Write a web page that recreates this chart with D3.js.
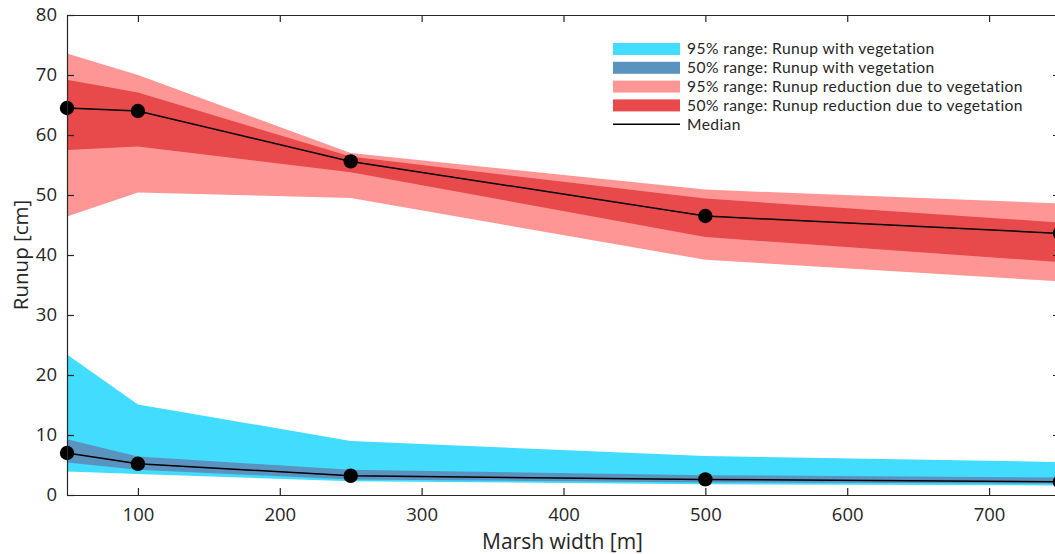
<!DOCTYPE html>
<html>
<head>
<meta charset="utf-8">
<script src="https://cdn.jsdelivr.net/npm/d3@7"></script>
<style>
  html, body { margin: 0; padding: 0; background: #fff; overflow: hidden; }
  svg { display: block; font-family: "Open Sans", "Noto Sans", sans-serif; }
</style>
</head>
<body>
<svg id="chart" width="1055" height="554"></svg>
<script>
// Marsh widths [m]
const widths = [50, 100, 250, 500, 750];

// Runup with vegetation [cm]
const vegMedian = [7.0, 5.2, 3.2, 2.6, 2.2];
const veg95Low  = [3.9, 3.5, 2.3, 1.8, 1.6];
const veg95High = [23.4, 15.1, 9.0, 6.5, 5.5];
const veg50Low  = [5.4, 4.2, 2.6, 2.1, 1.9];
const veg50High = [9.3, 6.4, 4.2, 3.3, 2.9];

// Runup reduction due to vegetation [cm]
const redMedian = [64.5, 64.0, 55.6, 46.5, 43.6];
const red95Low  = [46.4, 50.4, 49.5, 39.2, 35.6];
const red95High = [73.6, 70.0, 57.0, 50.9, 48.6];
const red50Low  = [57.5, 58.1, 53.8, 43.0, 38.8];
const red50High = [69.2, 67.1, 56.4, 49.4, 45.4];

const xTicks = [100, 200, 300, 400, 500, 600, 700];
const yTicks = [0, 10, 20, 30, 40, 50, 60, 70, 80];

const legendLabels = [
  "95% range: Runup with vegetation",
  "50% range: Runup with vegetation",
  "95% range: Runup reduction due to vegetation",
  "50% range: Runup reduction due to vegetation",
  "Median"
];

const colors = {
  veg95: "#42dcff",
  veg50: "#5a93c0",
  red95: "#ff9696",
  red50: "#e8494b",
  axis: "#262626"
};

const svg = d3.select("#chart");
const plotLeft = 67, plotRight = 1060, plotTop = 15, plotBottom = 495;

const x = d3.scaleLinear().domain([50, 750]).range([plotLeft, plotRight]);
const y = d3.scaleLinear().domain([0, 80]).range([plotBottom, plotTop]);

const plot = svg.append("g");

function band(lo, hi, fill) {
  const area = d3.area()
    .x((d, i) => x(widths[i]))
    .y0((d, i) => y(lo[i]))
    .y1((d, i) => y(hi[i]));
  plot.append("path").datum(widths).attr("d", area).attr("fill", fill);
}

band(red95Low, red95High, colors.red95);
band(red50Low, red50High, colors.red50);
band(veg95Low, veg95High, colors.veg95);
band(veg50Low, veg50High, colors.veg50);

function medianLine(vals) {
  const line = d3.line().x((d, i) => x(widths[i])).y(d => y(d));
  plot.append("path").datum(vals).attr("d", line)
    .attr("fill", "none").attr("stroke", "#000").attr("stroke-width", 1.5);
  plot.selectAll(null).data(vals).enter().append("circle")
    .attr("cx", (d, i) => x(widths[i]))
    .attr("cy", d => y(d))
    .attr("r", 7.2)
    .attr("fill", "#000");
}
medianLine(redMedian);
medianLine(vegMedian);

// Axes: box with inward ticks on all four sides
const tickLen = 7;
const axisStyle = g => {
  g.select(".domain").attr("stroke", colors.axis).attr("stroke-width", 1.2);
  g.selectAll(".tick line").attr("stroke", colors.axis).attr("stroke-width", 1.2);
  g.selectAll(".tick text").attr("fill", colors.axis).style("font-size", "18.5px")
    .style("font-family", "'Open Sans', 'Noto Sans', sans-serif");
};

svg.append("g").attr("transform", `translate(0,${plotBottom})`)
  .call(d3.axisBottom(x).tickValues(xTicks).tickSizeInner(-tickLen).tickSizeOuter(0).tickPadding(13))
  .call(axisStyle);
svg.append("g").attr("transform", `translate(0,${plotTop})`)
  .call(d3.axisTop(x).tickValues(xTicks).tickSizeInner(-tickLen).tickSizeOuter(0).tickFormat(""))
  .call(axisStyle);
svg.append("g").attr("transform", `translate(${plotLeft},0)`)
  .call(d3.axisLeft(y).tickValues(yTicks).tickSizeInner(-tickLen).tickSizeOuter(0).tickPadding(10))
  .call(axisStyle);
svg.append("g").attr("transform", `translate(${plotRight},0)`)
  .call(d3.axisRight(y).tickValues(yTicks).tickSizeInner(-tickLen).tickSizeOuter(0).tickFormat(""))
  .call(axisStyle);

// Axis titles
svg.append("text")
  .attr("x", (plotLeft + plotRight) / 2 - 1).attr("y", 549)
  .attr("text-anchor", "middle").attr("fill", colors.axis)
  .style("font-size", "21px").text("Marsh width [m]");
svg.append("text")
  .attr("transform", `translate(28,${(plotTop + plotBottom) / 2}) rotate(-90)`)
  .attr("text-anchor", "middle").attr("fill", colors.axis)
  .style("font-size", "20.5px").text("Runup [cm]");

// Legend
const legend = svg.append("g").attr("transform", "translate(613,49)");
const legendFills = [colors.veg95, colors.veg50, colors.red95, colors.red50, null];
legendLabels.forEach((label, i) => {
  const row = legend.append("g").attr("transform", `translate(0,${i * 18.8})`);
  if (legendFills[i]) {
    row.append("rect").attr("x", 0).attr("y", -6).attr("width", 67).attr("height", 12)
      .attr("fill", legendFills[i]);
  } else {
    row.append("line").attr("x1", 0).attr("x2", 67).attr("y1", 0).attr("y2", 0)
      .attr("stroke", "#000").attr("stroke-width", 1.5);
  }
  row.append("text").attr("x", 74).attr("y", 0).attr("dy", "0.35em")
    .attr("fill", colors.axis)
    .style("font-family", "Lato, 'Open Sans', sans-serif")
    .style("font-size", "15.6px")
    .style("letter-spacing", "0.4px")
    .text(label);
});
</script>
</body>
</html>
